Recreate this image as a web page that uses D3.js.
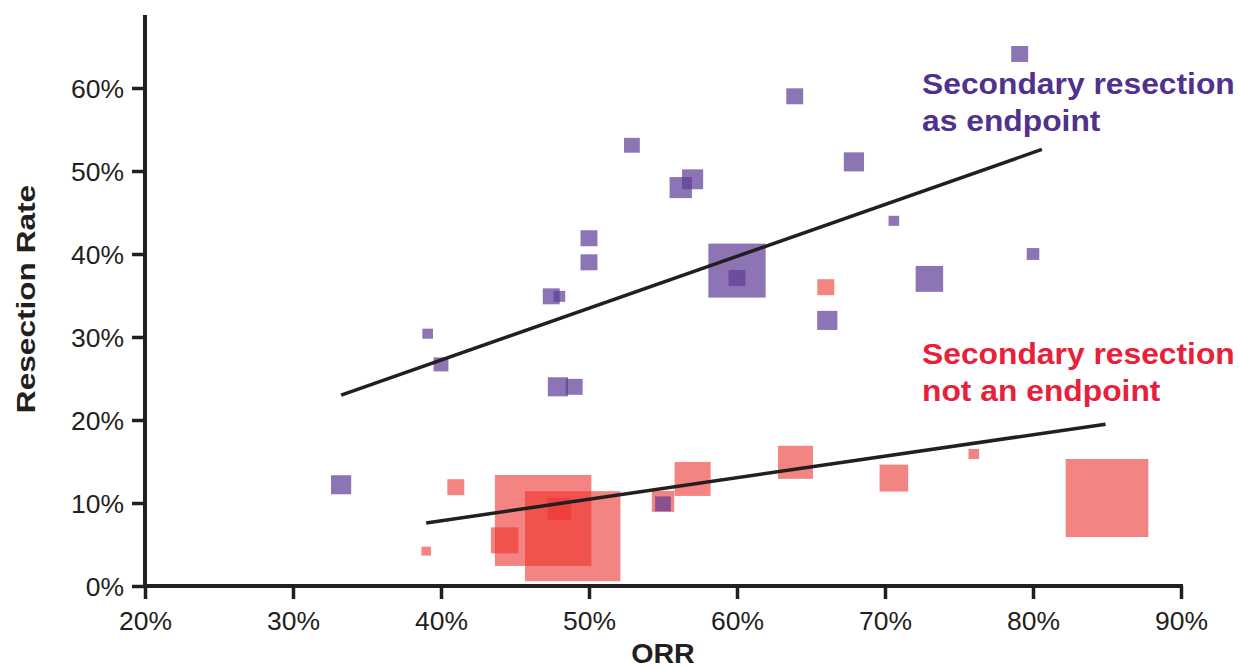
<!DOCTYPE html>
<html>
<head>
<meta charset="utf-8">
<script src="https://cdn.jsdelivr.net/npm/d3@7"></script>
<style>
  html, body { margin: 0; padding: 0; background: #fff; }
  svg { display: block; }
  text { font-family: "Liberation Sans", Arial, Helvetica, sans-serif; }
</style>
</head>
<body>
<svg id="chart" width="1241" height="668"></svg>
<script>
// ---- Data ----
const xTicks = [0.2, 0.3, 0.4, 0.5, 0.6, 0.7, 0.8, 0.9];
const yTicks = [0, 0.1, 0.2, 0.3, 0.4, 0.5, 0.6];

// Secondary resection as endpoint (purple)
const purpleORR  = [0.791, 0.639, 0.529, 0.679, 0.570, 0.562, 0.706, 0.500, 0.500, 0.800, 0.600, 0.600, 0.730, 0.4745, 0.480, 0.391, 0.400, 0.661, 0.479, 0.490, 0.3325, 0.550];
const purpleRate = [0.641, 0.590, 0.531, 0.511, 0.490, 0.480, 0.440, 0.419, 0.390, 0.400, 0.380, 0.371, 0.370, 0.349, 0.349, 0.304, 0.267, 0.320, 0.240, 0.240, 0.122, 0.099];
const purpleN    = [38, 38, 33, 54, 59, 66, 15, 38, 38, 21, 434, 38, 100, 38, 18, 15, 29, 54, 54, 38, 54, 33];

// Secondary resection not an endpoint (red)
const redORR  = [0.660, 0.410, 0.390, 0.469, 0.489, 0.443, 0.480, 0.550, 0.570, 0.6395, 0.706, 0.760, 0.850];
const redRate = [0.360, 0.119, 0.042, 0.079, 0.060, 0.055, 0.093, 0.102, 0.129, 0.149, 0.130, 0.159, 0.106];
const redN    = [38, 38, 12, 1231, 1205, 100, 72, 66, 172, 162, 108, 15, 905];

// Trend lines (end points)
const purpleTrendX = [0.3325, 0.806];
const purpleTrendY = [0.230, 0.526];
const redTrendX = [0.390, 0.849];
const redTrendY = [0.076, 0.195];

const purpleLabel = ["Secondary resection", "as endpoint"];
const redLabel = ["Secondary resection", "not an endpoint"];

// ---- Drawing ----
const svg = d3.select("#chart");
const axisColor = "#231f20";
const sx = 1.06; // slight horizontal stretch of the original

const x = d3.scaleLinear().domain([0.2, 0.9]).range([145, 1181]);
const y = d3.scaleLinear().domain([0, 0.6]).range([586, 88]);
const side = d3.scaleSqrt().domain([0, 1000]).range([0, 82]);

function squares(xs, ys, ns, fill, op) {
  const data = xs.map((v, i) => ({ x: v, y: ys[i], n: ns[i] }));
  svg.append("g").selectAll("rect").data(data).join("rect")
    .attr("x", d => x(d.x) - side(d.n) * sx / 2)
    .attr("y", d => y(d.y) - side(d.n) / 2)
    .attr("width", d => side(d.n) * sx)
    .attr("height", d => side(d.n))
    .attr("fill", fill)
    .attr("fill-opacity", op);
}

squares(redORR, redRate, redN, "rgb(236,50,45)", 0.6);
squares(purpleORR, purpleRate, purpleN, "rgb(92,58,149)", 0.7);

// Trend lines
const line = d3.line().x(d => x(d[0])).y(d => y(d[1]));
svg.append("path").datum(purpleTrendX.map((v, i) => [v, purpleTrendY[i]]))
  .attr("d", line).attr("stroke", "#231f20").attr("stroke-width", 3.5).attr("fill", "none");
svg.append("path").datum(redTrendX.map((v, i) => [v, redTrendY[i]]))
  .attr("d", line).attr("stroke", "#231f20").attr("stroke-width", 3.5).attr("fill", "none");

// Axes
const xAxis = d3.axisBottom(x).tickValues(xTicks).tickSize(13).tickFormat(d3.format(".0%"));
const yAxis = d3.axisLeft(y).tickValues(yTicks).tickSize(13).tickFormat(d3.format(".0%"));

const gx = svg.append("g").attr("transform", `translate(0,${y(0)})`).call(xAxis);
const gy = svg.append("g").attr("transform", `translate(${x(0.2)},0)`).call(yAxis);

[gx, gy].forEach(g => {
  g.select(".domain").remove();
  g.selectAll(".tick line").attr("stroke", axisColor).attr("stroke-width", 3.5);
  g.selectAll(".tick text").attr("fill", axisColor).attr("font-size", 25)
    .attr("font-family", "'Liberation Sans', Arial, sans-serif");
});
gx.selectAll(".tick text").attr("y", 0).attr("dy", 0)
  .attr("transform", `translate(0,44) scale(${sx},1)`);
gy.selectAll(".tick text").attr("x", 0).attr("dy", 0)
  .attr("transform", `translate(-21,9) scale(${sx},1)`);

// Axis lines
svg.append("line").attr("x1", x(0.2)).attr("x2", x(0.2)).attr("y1", 15).attr("y2", y(0) + 2)
  .attr("stroke", axisColor).attr("stroke-width", 4);
svg.append("line").attr("x1", x(0.2) - 2).attr("x2", x(0.9) + 2).attr("y1", y(0)).attr("y2", y(0))
  .attr("stroke", axisColor).attr("stroke-width", 4);

// Axis titles
svg.append("text").text("ORR")
  .attr("transform", `translate(663,663) scale(${sx},1)`)
  .attr("text-anchor", "middle").attr("font-weight", "bold").attr("font-size", 27)
  .attr("fill", axisColor);
svg.append("text").text("Resection Rate")
  .attr("transform", `translate(35,299) rotate(-90) scale(1.02,0.86)`)
  .attr("text-anchor", "middle").attr("font-weight", "bold").attr("font-size", 31)
  .attr("fill", axisColor);

// Series labels
function label(lines, x0, y0, color) {
  lines.forEach((t, i) => {
    svg.append("text").text(t)
      .attr("transform", `translate(${x0},${y0 + i * 37}) scale(${sx},1)`)
      .attr("font-weight", "bold").attr("font-size", 30).attr("fill", color);
  });
}
label(purpleLabel, 922, 94, "#52308e");
label(redLabel, 922, 364, "#e8203a");
</script>
</body>
</html>
